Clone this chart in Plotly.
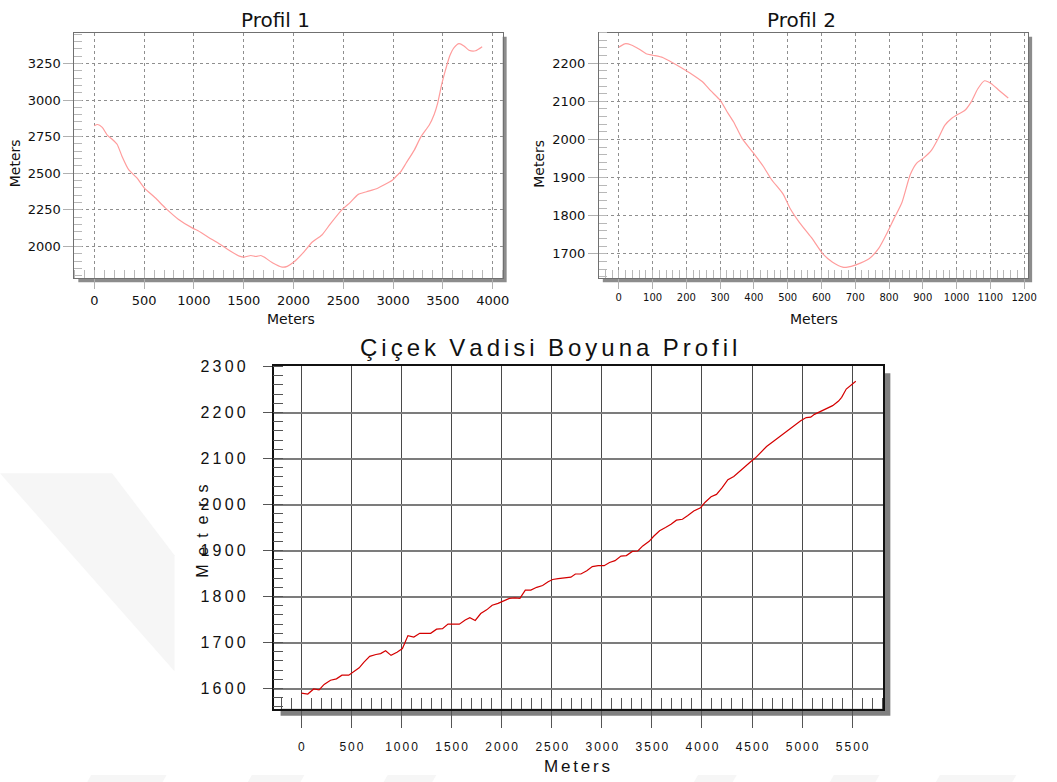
import plotly.graph_objects as go

W, H = 1057, 782

# ---------------- data ----------------
p1_dist = [0, 33, 80, 130, 180, 229, 279, 345, 428, 501, 611, 710, 843, 992, 1042, 1174, 1274,
           1373, 1456, 1506, 1572, 1622, 1672, 1705, 1788, 1887, 1937, 2003, 2103, 2186, 2285,
           2368, 2485, 2568, 2650, 2733, 2833, 2916, 2992, 3032, 3075, 3131, 3214, 3280, 3363,
           3413, 3446, 3489, 3529, 3569, 3612, 3662, 3711, 3761, 3828, 3894]
p1_elev = [2824, 2833, 2813, 2761, 2732, 2698, 2615, 2525, 2468, 2401, 2333, 2266, 2187, 2124,
           2108, 2052, 2011, 1966, 1935, 1928, 1939, 1932, 1939, 1928, 1890, 1860, 1865, 1894,
           1962, 2029, 2079, 2153, 2250, 2300, 2356, 2374, 2394, 2423, 2453, 2480, 2509, 2570,
           2660, 2750, 2829, 2903, 2975, 3110, 3212, 3302, 3358, 3385, 3369, 3340, 3336, 3363]

p2_dist = [0, 18, 37, 62, 81, 101, 130, 154, 184, 213, 247, 272, 301, 321, 340, 365, 399, 428,
           452, 487, 506, 535, 570, 604, 633, 663, 677, 702, 741, 770, 795, 814, 838, 863, 882,
           902, 926, 946, 965, 985, 1004, 1024, 1043, 1063, 1083, 1102, 1127, 1153]
p2_elev = [2242, 2251, 2248, 2236, 2225, 2221, 2215, 2204, 2189, 2173, 2152, 2128, 2102, 2072,
           2046, 2003, 1964, 1929, 1895, 1856, 1821, 1782, 1743, 1700, 1678, 1665, 1665, 1671,
           1687, 1715, 1756, 1791, 1834, 1908, 1938, 1951, 1972, 2003, 2037, 2055, 2066, 2076,
           2098, 2133, 2154, 2147, 2128, 2109]

p3_dist = [0, 64, 123, 177, 227, 291, 350, 405, 473, 509, 577, 623, 682, 745, 791, 841, 895, 955,
           1009, 1064, 1123, 1182, 1291, 1350, 1409, 1464, 1577, 1636, 1682, 1736, 1791, 1850,
           1905, 1964, 2018, 2077, 2132, 2182, 2236, 2291, 2350, 2409, 2464, 2509, 2564, 2645,
           2691, 2736, 2791, 2850, 2905, 2964, 3023, 3077, 3132, 3191, 3245, 3305, 3359, 3409,
           3473, 3518, 3577, 3636, 3691, 3745, 3805, 3859, 3918, 3986, 4032, 4091, 4145, 4200,
           4259, 4318, 4373, 4427, 4486, 4532, 4591, 4645, 4705, 4759, 4818, 4873, 4932, 4986,
           5041, 5086, 5123, 5191, 5250, 5305, 5364, 5395, 5441, 5500, 5536]
p3_elev = [1590, 1588, 1599, 1597, 1609, 1618, 1621, 1629, 1629, 1634, 1645, 1657, 1670, 1674,
           1676, 1682, 1672, 1679, 1687, 1715, 1712, 1720, 1720, 1729, 1730, 1740, 1740, 1749,
           1754, 1748, 1763, 1771, 1781, 1785, 1790, 1796, 1797, 1796, 1814, 1814, 1820, 1824,
           1832, 1837, 1839, 1840, 1842, 1849, 1849, 1856, 1865, 1867, 1867, 1874, 1878, 1888,
           1889, 1898, 1899, 1910, 1920, 1931, 1943, 1950, 1957, 1966, 1968, 1976, 1986, 1993,
           2005, 2017, 2022, 2036, 2054, 2061, 2072, 2083, 2093, 2101, 2115, 2126, 2136, 2145,
           2154, 2163, 2172, 2182, 2189, 2190, 2196, 2203, 2208, 2215, 2225, 2233, 2251, 2262,
           2268]

p1_title = "Profil 1"
p2_title = "Profil 2"
p3_title = "Çiçek Vadisi Boyuna Profil"
axis_title = "Meters"

p3_xticks = [0, 500, 1000, 1500, 2000, 2500, 3000, 3500, 4000, 4500, 5000, 5500]
p3_yticks = [1600, 1700, 1800, 1900, 2000, 2100, 2200, 2300]

NB = "\u00a0"
THIN = "\u2009"
SIXTH = "\u2006"


def spaced(s, gap=THIN, word_gap=NB * 2):
    words = s.split(" ")
    return word_gap.join(gap.join(list(w)) for w in words)


# ---------------- helpers ----------------
def fx(px):
    return px / W


def fy(py):
    return 1 - py / H


TOP_FONT = "DejaVu Sans, Verdana, sans-serif"
NARROW = "Liberation Sans, Arial, sans-serif"

fig = go.Figure()

fig.add_trace(go.Scatter(x=p1_dist, y=p1_elev, mode="lines", xaxis="x", yaxis="y",
                         line=dict(color="#ff9c9c", width=1.2, shape="spline", smoothing=0.6),
                         showlegend=False, hoverinfo="skip"))
fig.add_trace(go.Scatter(x=p2_dist, y=p2_elev, mode="lines", xaxis="x2", yaxis="y2",
                         line=dict(color="#ff9c9c", width=1.2, shape="spline", smoothing=0.6),
                         showlegend=False, hoverinfo="skip"))
fig.add_trace(go.Scatter(x=p3_dist, y=p3_elev, mode="lines", xaxis="x3", yaxis="y3",
                         line=dict(color="#d40000", width=1.2),
                         showlegend=False, hoverinfo="skip"))

# plot boxes (pixels)
box1 = (75, 25, 507, 273)
box2 = (604, 25, 1037, 273)
box3 = (276, 362, 891, 708)

shapes = []


def poly(points, color):
    path = "M " + " L ".join(f"{fx(x):.5f},{fy(y):.5f}" for x, y in points) + " Z"
    return dict(type="path", xref="paper", yref="paper", layer="below", path=path,
                fillcolor=color, line=dict(width=0))


# faint background watermark pieces
WM = "#f6f6f6"
shapes.append(poly([(0, 470), (113, 470), (176, 553), (176, 670)], WM))
for xa, xb in [(88, 168), (250, 307), (387, 440), (700, 743), (837, 887), (944, 1025)]:
    shapes.append(poly([(xa + 4, 775), (xb, 775), (xb - 4, 782), (xa, 782)], WM))

for (x0, y0, x1, y1), off, col in [(box1, 4, "#8c8c8c"), (box2, 4, "#8c8c8c"), (box3, 7, "#808080")]:
    shapes.append(dict(type="rect", xref="paper", yref="paper", layer="below",
                       x0=fx(x0 + off), x1=fx(x1 + off), y0=fy(y1 + off), y1=fy(y0 + off),
                       fillcolor=col, line=dict(width=0)))
    shapes.append(dict(type="rect", xref="paper", yref="paper", layer="below",
                       x0=fx(x0), x1=fx(x1), y0=fy(y1), y1=fy(y0),
                       fillcolor="white", line=dict(width=0)))


def top_axes(box, xr, yr, xd, yd, xminor, yminor, xfs):
    x0, y0, x1, y1 = box
    xa = dict(domain=[fx(x0), fx(x1)], range=xr, dtick=xd, tick0=0,
              showgrid=True, gridcolor="#8f8f8f", griddash="dot", gridwidth=1,
              zeroline=False, showline=True, linecolor="#707070", linewidth=1, mirror=True,
              ticks="outside", ticklen=10, tickcolor="#b0b0b0", tickwidth=1,
              tickfont=dict(family=TOP_FONT, size=xfs, color="#111"),
              minor=dict(ticks="inside", ticklen=8, dtick=xminor, tickcolor="#b8b8b8",
                         tickwidth=1, showgrid=False),
              fixedrange=True)
    ya = dict(domain=[fy(y1), fy(y0)], range=yr, dtick=yd,
              showgrid=True, gridcolor="#8f8f8f", griddash="dot", gridwidth=1,
              zeroline=False, showline=True, linecolor="#707070", linewidth=1, mirror=True,
              ticks="outside", ticklen=10, tickcolor="#b0b0b0", tickwidth=1,
              tickfont=dict(family=TOP_FONT, size=13, color="#111"),
              minor=dict(ticks="inside", ticklen=8, dtick=yminor, tickcolor="#b8b8b8",
                         tickwidth=1, showgrid=False),
              fixedrange=True)
    return xa, ya


xa1, ya1 = top_axes(box1, [-200, 4100], [1784, 3459], 500, 250, 100, 50, 13)
ya1["tick0"] = 2000
xa2, ya2 = top_axes(box2, [-59, 1212], [1636, 2280], 100, 100, 20, 20, 10)
ya2["tick0"] = 1700
xa2["anchor"] = "y2"
ya2["anchor"] = "x2"

x0, y0, x1, y1 = box3
xa3 = dict(domain=[fx(x0), fx(x1)], range=[-277, 5812], anchor="y3",
           tickmode="array", tickvals=p3_xticks,
           ticktext=[spaced(str(v), gap=SIXTH) for v in p3_xticks],
           showgrid=True, gridcolor="#4a4a4a", gridwidth=1, zeroline=False,
           showline=True, linecolor="#111", linewidth=1.6, mirror=True,
           ticks="outside", ticklen=17, tickcolor="#555", tickwidth=1,
           ticklabelstandoff=9,
           tickfont=dict(family=NARROW, size=12, color="#111"),
           minor=dict(ticks="inside", ticklen=11, dtick=100, tick0=0, tickcolor="#555",
                      tickwidth=1, showgrid=False),
           fixedrange=True)
ya3 = dict(domain=[fy(y1), fy(y0)], range=[1556, 2300.5], anchor="x3",
           tickmode="array", tickvals=p3_yticks, ticktext=[spaced(str(v)) for v in p3_yticks],
           showgrid=True, gridcolor="#7c7c7c", gridwidth=1.6, zeroline=False,
           showline=True, linecolor="#111", linewidth=1.6, mirror=True,
           ticks="outside", ticklen=9, tickcolor="#555", tickwidth=1,
           ticklabelstandoff=14,
           tickfont=dict(family=NARROW, size=16, color="#111"),
           minor=dict(ticks="inside", ticklen=10, dtick=20, tick0=1600, tickcolor="#555",
                      tickwidth=1, showgrid=False),
           fixedrange=True)

annotations = [
    dict(text=p1_title, x=fx(278), y=fy(12), font=dict(family=TOP_FONT, size=20, color="#111")),
    dict(text=p2_title, x=fx(808), y=fy(12), font=dict(family=TOP_FONT, size=20, color="#111")),
    dict(text=axis_title, x=fx(293), y=fy(314), font=dict(family=TOP_FONT, size=14, color="#111")),
    dict(text=axis_title, x=fx(821), y=fy(314), font=dict(family=TOP_FONT, size=14, color="#111")),
    dict(text=axis_title, x=fx(16), y=fy(157), textangle=-90,
         font=dict(family=TOP_FONT, size=14, color="#111")),
    dict(text=axis_title, x=fx(544), y=fy(157), textangle=-90,
         font=dict(family=TOP_FONT, size=14, color="#111")),
    dict(text=spaced(p3_title, gap=SIXTH), x=fx(553), y=fy(343),
         font=dict(family=NARROW, size=24, color="#111")),
    dict(text=spaced(axis_title, gap=SIXTH), x=fx(582), y=fy(766),
         font=dict(family=NARROW, size=17, color="#111")),
    dict(text=spaced(axis_title, gap=NB * 2), x=fx(204), y=fy(529), textangle=-90,
         font=dict(family=NARROW, size=16, color="#111")),
]
for a in annotations:
    a.update(xref="paper", yref="paper", showarrow=False, xanchor="center", yanchor="middle")

fig.update_layout(
    width=W, height=H, margin=dict(l=0, r=0, t=0, b=0),
    paper_bgcolor="white", plot_bgcolor="rgba(0,0,0,0)",
    xaxis=xa1, yaxis=ya1, xaxis2=xa2, yaxis2=ya2, xaxis3=xa3, yaxis3=ya3,
    shapes=shapes, annotations=annotations, showlegend=False,
)

fig.write_html("out.html", config={"displayModeBar": False},
               post_script="document.body.style.margin='0';document.body.style.padding='0';"
                           "document.body.style.overflow='hidden';")
